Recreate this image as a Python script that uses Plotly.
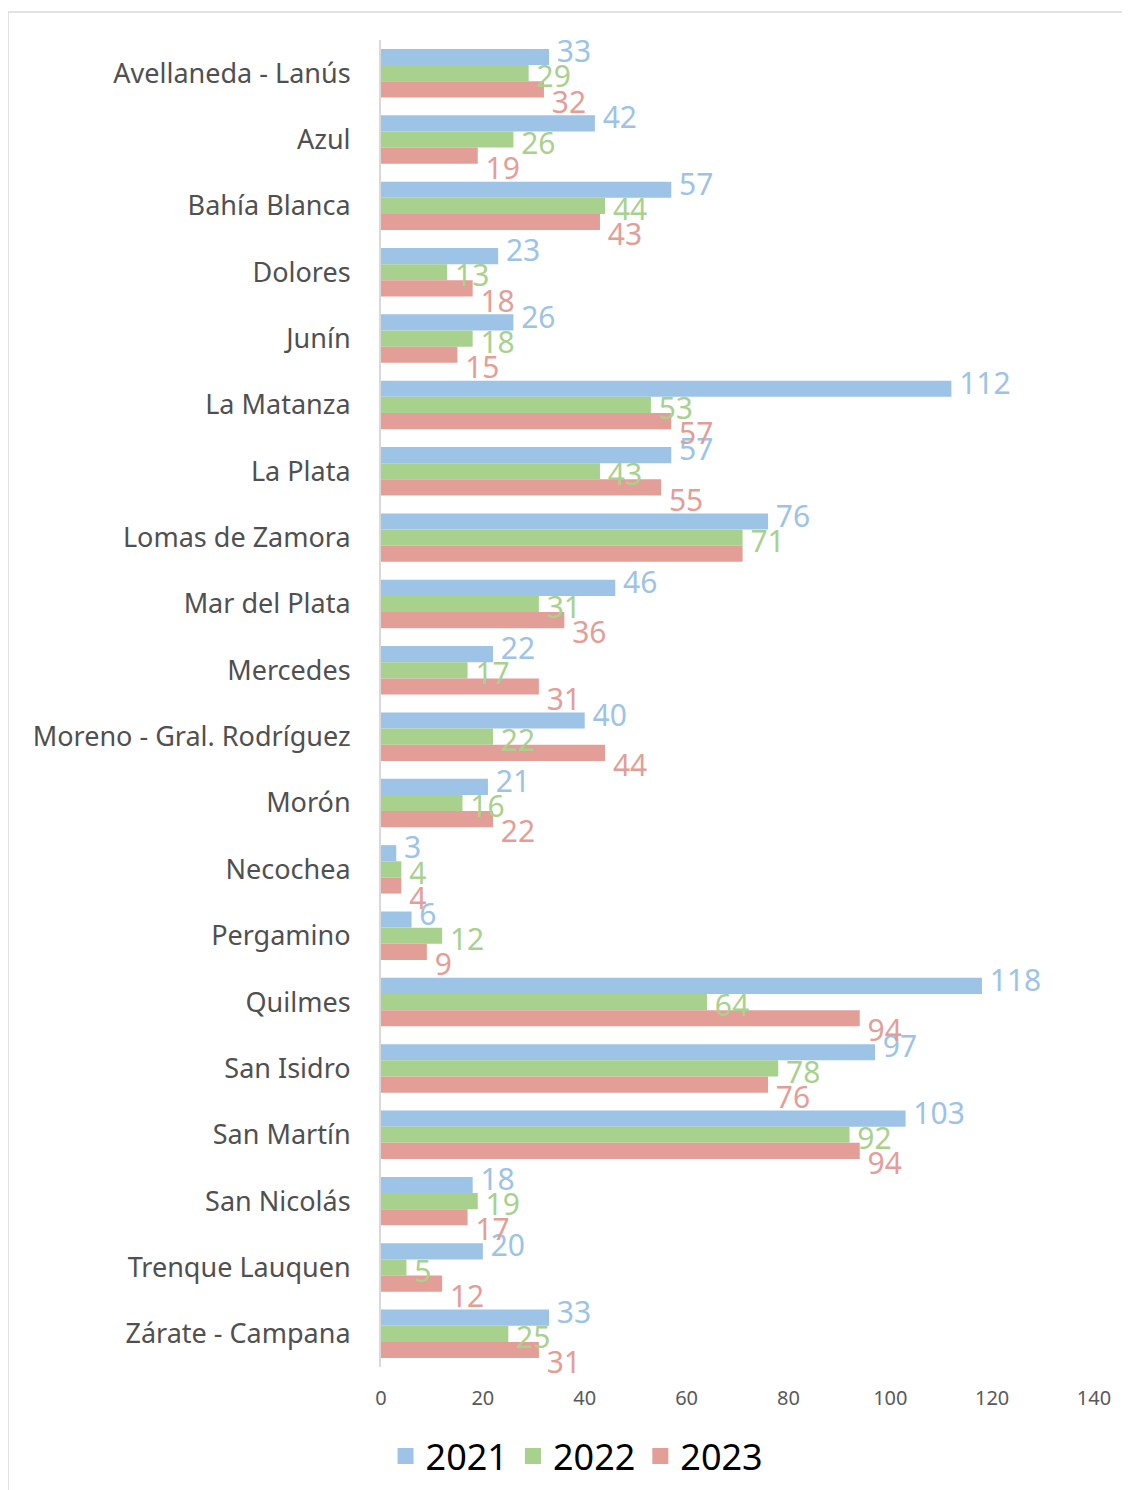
import plotly.graph_objects as go

categories = ["Avellaneda - Lanús", "Azul", "Bahía Blanca", "Dolores", "Junín",
              "La Matanza", "La Plata", "Lomas de Zamora", "Mar del Plata", "Mercedes",
              "Moreno - Gral. Rodríguez", "Morón", "Necochea", "Pergamino", "Quilmes",
              "San Isidro", "San Martín", "San Nicolás", "Trenque Lauquen", "Zárate - Campana"]
v2021 = [33, 42, 57, 23, 26, 112, 57, 76, 46, 22, 40, 21, 3, 6, 118, 97, 103, 18, 20, 33]
v2022 = [29, 26, 44, 13, 18, 53, 43, 71, 31, 17, 22, 16, 4, 12, 64, 78, 92, 19, 5, 25]
v2023 = [32, 19, 43, 18, 15, 57, 55, 71, 36, 31, 44, 22, 4, 9, 94, 76, 94, 17, 12, 31]
years = ["2021", "2022", "2023"]
colors = ["#9DC3E6", "#A9D18E", "#E39E98"]
label_offsets = [-0.28, 0.1, 0.48]   # vertical shift of data labels, in category units
hidden_labels = {("2023", "Lomas de Zamora")}

W, H = 1122, 1482
L, T = 373, 32
PW, PH = 713, 1327
n = len(categories)

fig = go.Figure()
for name, vals, col, off in zip(years, [v2021, v2022, v2023], colors, label_offsets):
    fig.add_trace(go.Bar(
        y=categories, x=vals, name=name, orientation="h",
        marker=dict(color=col, line=dict(width=0)), showlegend=False,
        hoverinfo="x+y",
    ))
    keep = [i for i, c in enumerate(categories) if (name, c) not in hidden_labels]
    fig.add_trace(go.Scatter(
        x=[vals[i] for i in keep], y=[i + off for i in keep], yaxis="y2",
        mode="text", text=["\u00a0" + str(vals[i]) for i in keep],
        textposition="middle right", cliponaxis=False, showlegend=False,
        textfont=dict(color=col, size=30, family="Noto Sans"), hoverinfo="skip",
    ))
for name, col in zip(years, colors):
    fig.add_trace(go.Scatter(
        x=[None], y=[None], mode="markers", name=name,
        marker=dict(symbol="square", size=16, color=col),
    ))

fig.update_layout(
    barmode="group", bargap=0.27, bargroupgap=0,
    width=W, height=H,
    margin=dict(l=L, r=W - L - PW, t=T, b=H - T - PH, autoexpand=False),
    plot_bgcolor="white", paper_bgcolor="white",
    font=dict(family="Noto Sans", color="#595959"),
    xaxis=dict(range=[0, 140], dtick=20, showgrid=False, zeroline=False,
               showline=False, ticks="", ticklabelstandoff=17, automargin=False,
               tickfont=dict(size=20, color="#595959")),
    yaxis=dict(range=[n - 0.5, -0.5], showgrid=False, zeroline=False,
               showline=True, linecolor="#D9D9D9", linewidth=2, ticks="",
               ticklabelstandoff=23, automargin=False,
               tickfont=dict(size=27, color="#505050")),
    yaxis2=dict(overlaying="y", range=[n - 0.5, -0.5], visible=False),
    legend=dict(orientation="h", x=0.275, xanchor="center",
                yref="container", y=1 - 1448 / H, yanchor="middle",
                font=dict(size=36, color="black"), traceorder="normal",
                itemsizing="trace"),
    showlegend=True,
    shapes=[dict(type="rect", xref="paper", yref="paper",
                 x0=(0 - L) / PW, x1=(1160 - L) / PW,
                 y0=-(H + 40 - T - PH) / PH, y1=1 + (T - 4) / PH,
                 line=dict(color="#D9D9D9", width=1.5), fillcolor="rgba(0,0,0,0)", layer="below")],
)

fig.write_html("out.html")
